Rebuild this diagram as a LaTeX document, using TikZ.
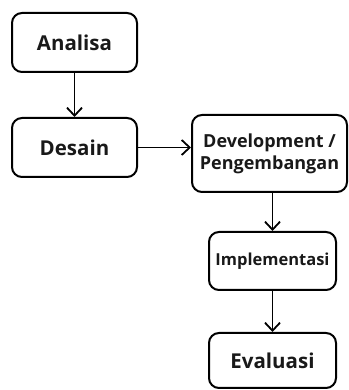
\documentclass[tikz,border=0pt]{standalone}
\usepackage{fontspec}
\setmainfont{Open Sans}
\usetikzlibrary{arrows.meta}
\begin{document}
\begin{tikzpicture}[x=1pt,y=1pt,
  box/.style={draw=black,line width=2pt,rounded corners=10pt,inner sep=0pt,align=center,
    font=\fontsize{20.5}{23}\selectfont\bfseries, text=black!90},
  conn/.style={line width=1.8pt,-{Straight Barb[length=8pt,width=15pt,line width=1.8pt]}}]
\useasboundingbox (0,0) rectangle (348,390);
\node[box,minimum width=125pt,minimum height=59pt] (ana) at (74.5,347.5) {Analisa};
\node[box,minimum width=125pt,minimum height=59pt] (des) at (74.5,242.5) {Desain};
\node[box,minimum width=155pt,minimum height=77pt,font=\fontsize{18}{22}\selectfont\bfseries] (dev) at (269.5,236.5) {Development /\\Pengembangan};
\node[box,minimum width=127pt,minimum height=58pt,font=\fontsize{16.5}{19}\selectfont\bfseries] (imp) at (272.5,129) {Implementasi};
\node[box,minimum width=127pt,minimum height=55pt] (eva) at (272.5,29.5) {Evaluasi};
\draw[conn] (ana) -- (des);
\draw[conn] (des.east) -- (des.east -| dev.west);
\draw[conn] (dev.south -| imp.north) -- (imp.north);
\draw[conn] (imp) -- (eva);
\end{tikzpicture}
\end{document}
